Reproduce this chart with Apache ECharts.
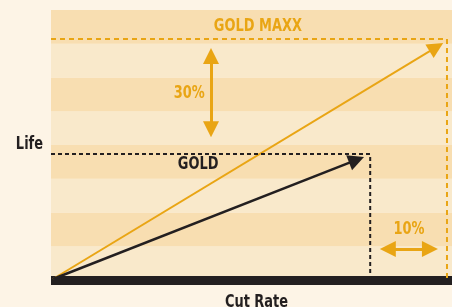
<!DOCTYPE html>
<html>
<head>
<meta charset="utf-8">
<script src="https://cdn.jsdelivr.net/npm/echarts@6/dist/echarts.min.js"></script>
<style>
  html, body { margin: 0; padding: 0; background: #fdf4e6; }
  #main { width: 452px; height: 307px; }
</style>
</head>
<body>
<div id="main"></div>
<script>
// chart data (x = cut rate 0..100, y = life 0..80)
var maxxArrow = [[0.5, 0.3], [96.1, 69.0]];
var goldArrow = [[0.5, 0.3], [76.2, 35.6]];
var maxxGuide = [[0, 71.4], [98.75, 71.4], [98.75, 0]];
var goldGuide = [[0, 37.3], [79.6, 37.3], [79.6, 0]];
var lifeGap = [[39.9, 66.4], [39.9, 44.7]];
var rateGap = [[84.0, 9.2], [94.5, 9.2]];
var labelNames = ['GOLD MAXX', 'GOLD', '30%', '10%'];
var labelPos = [[51.6, 75.1], [36.7, 34.4], [34.5, 55.3], [89.3, 15.0]];
var axisNames = ['Cut Rate', 'Life'];

var ORANGE = '#e9a514';
var DARK = '#231f20';
var FONT = '"DejaVu Sans", sans-serif';
var SQUEEZE = 0.72;

var myChart = echarts.init(document.getElementById('main'));

var option = {
    backgroundColor: '#fdf4e6',
    animation: false,
    grid: { left: 51, right: 0, top: 10, bottom: 27, outerBoundsMode: 'none' },
    xAxis: {
        type: 'value', min: 0, max: 100,
        offset: 4.5,
        axisLine: { lineStyle: { color: DARK, width: 9, cap: 'butt' } },
        axisTick: { show: false }, axisLabel: { show: false }, splitLine: { show: false }
    },
    yAxis: {
        type: 'value', min: 0, max: 80, interval: 10,
        axisLine: { show: false }, axisTick: { show: false }, axisLabel: { show: false },
        splitLine: { show: false },
        splitArea: { show: true, areaStyle: { color: ['#f9e9cb', '#f8deb1'] } }
    },
    series: [
        {
            type: 'line', data: maxxGuide, showSymbol: false, silent: true,
            lineStyle: { color: ORANGE, width: 2, type: [5, 4] }
        },
        {
            type: 'line', data: goldGuide, showSymbol: false, silent: true,
            lineStyle: { color: DARK, width: 2, type: [4, 3] }
        },
        {
            type: 'lines', coordinateSystem: 'cartesian2d', polyline: false,
            symbol: ['none', 'triangle'], symbolSize: 16,
            lineStyle: { color: ORANGE, width: 2, opacity: 1 },
            data: [{ coords: maxxArrow }]
        },
        {
            type: 'lines', coordinateSystem: 'cartesian2d', polyline: false,
            symbol: ['none', 'triangle'], symbolSize: 16,
            lineStyle: { color: DARK, width: 2.5, opacity: 1 },
            data: [{ coords: goldArrow }]
        },
        {
            type: 'lines', coordinateSystem: 'cartesian2d', polyline: false,
            symbol: ['triangle', 'triangle'], symbolSize: 16,
            lineStyle: { color: ORANGE, width: 3, opacity: 1 },
            data: [{ coords: lifeGap }, { coords: rateGap }]
        }
    ]
};

myChart.setOption(option);

// condensed bold texts, placed from data coords
function txt(str, p, color, align) {
    return {
        type: 'text', x: p[0], y: p[1], scaleX: SQUEEZE, silent: true,
        style: {
            text: str, fill: color, align: align || 'center', verticalAlign: 'middle',
            font: 'bold 18px ' + FONT
        }
    };
}

var texts = labelNames.map(function (n, i) {
    var p = myChart.convertToPixel({ gridIndex: 0 }, labelPos[i]);
    return txt(n, p, n == 'GOLD' ? DARK : ORANGE);
});

var bottomMid = myChart.convertToPixel({ gridIndex: 0 }, [50, 0]);
var leftMid = myChart.convertToPixel({ gridIndex: 0 }, [0, 40]);
texts.push(txt(axisNames[0], [bottomMid[0] + 5, bottomMid[1] + 22], DARK));
texts.push(txt(axisNames[1], [leftMid[0] - 8, leftMid[1] - 1], DARK, 'right'));

myChart.setOption({ graphic: texts });
</script>
</body>
</html>
